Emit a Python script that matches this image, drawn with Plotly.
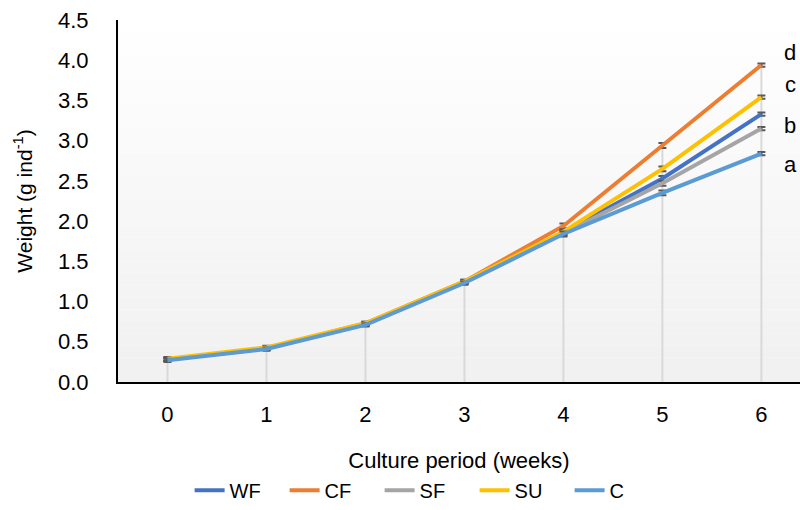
import plotly.graph_objects as go

weeks = [0, 1, 2, 3, 4, 5, 6]
week_labels = ["0", "1", "2", "3", "4", "5", "6"]

wf = [0.28, 0.42, 0.72, 1.24, 1.86, 2.53, 3.33]
cf = [0.28, 0.42, 0.73, 1.25, 1.94, 2.94, 3.94]
sf = [0.28, 0.42, 0.72, 1.24, 1.85, 2.47, 3.15]
su = [0.29, 0.43, 0.73, 1.25, 1.87, 2.65, 3.54]
c = [0.27, 0.41, 0.71, 1.23, 1.84, 2.35, 2.84]
err = [0.02, 0.02, 0.02, 0.02, 0.03, 0.03, 0.02]

series = [
    ("WF", wf, "#4472C4"),
    ("CF", cf, "#ED7D31"),
    ("SF", sf, "#A5A5A5"),
    ("SU", su, "#FFC000"),
    ("C", c, "#5B9BD5"),
]

letters = ["d", "c", "b", "a"]
letter_y = [4.10, 3.70, 3.19, 2.70]

fig = go.Figure()

# drop lines from the axis up to the highest value of each week
drop_x, drop_y = [], []
for i, w in enumerate(weeks):
    top = max(s[1][i] for s in series)
    drop_x += [w, w, None]
    drop_y += [0, top, None]
fig.add_trace(go.Scatter(x=drop_x, y=drop_y, mode="lines", showlegend=False,
                         hoverinfo="skip", line=dict(color="#D9D9D9", width=2)))

for name, vals, col in series:
    fig.add_trace(go.Scatter(
        x=weeks, y=vals, name=name, mode="lines",
        line=dict(color=col, width=4),
        error_y=dict(type="data", array=err, color="#595959", thickness=2, width=4),
    ))

for lt, ly in zip(letters, letter_y):
    fig.add_annotation(x=6.29, xref="x", y=ly, yref="y", text=lt, showarrow=False,
                       xanchor="center", font=dict(size=22, color="#000000"))

# light vertical gradient in the plot area
n = 30
for k in range(n):
    g = int(255 - (255 - 241) * k / (n - 1))
    fig.add_shape(type="rect", xref="paper", yref="paper", layer="below",
                  x0=0, x1=1, y0=1 - (k + 1) / n, y1=1 - k / n,
                  line=dict(width=0), fillcolor=f"rgb({g},{g},{g})")

fig.update_layout(
    width=800, height=510,
    margin=dict(l=118, r=0, t=20, b=128),
    paper_bgcolor="white", plot_bgcolor="white",
    font=dict(family="Liberation Sans, Arial, sans-serif", size=22, color="#000000"),
    legend=dict(orientation="h", x=0.105, xanchor="left", y=-0.353, yanchor="bottom",
                font=dict(size=20), entrywidth=50, entrywidthmode="pixels"),
    showlegend=True,
)
fig.update_xaxes(
    range=[-0.5, 6.39], tickvals=weeks, ticktext=week_labels, showgrid=False,
    zeroline=False, showline=True, linecolor="#000000", linewidth=2, ticks="",
    ticklabelstandoff=12, automargin=False,
    title=dict(text="Culture period (weeks)", font=dict(size=22), standoff=26),
)
fig.update_yaxes(
    range=[0, 4.5], dtick=0.5, tickformat=".1f", showgrid=False, zeroline=False,
    showline=True, linecolor="#000000", linewidth=2, ticks="", ticklabelstandoff=23,
    ticklabeloverflow="allow", automargin=False,
    title=dict(text="Weight (g ind<sup>-1</sup>)", font=dict(size=21), standoff=20),
)

# drop the default body margin so the figure fills the window exactly
fig.write_html("out.html", config={"displayModeBar": False},
               post_script="document.body.style.margin='0';")
